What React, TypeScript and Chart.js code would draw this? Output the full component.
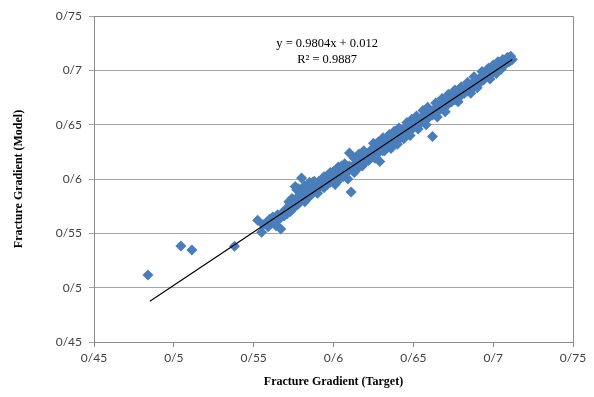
import React, { useEffect, useRef } from "react";
import { Chart, registerables } from "chart.js";

Chart.register(...registerables);

// Target (x) values
const targetValues: number[] = [
  0.4838, 0.5044, 0.5113, 0.538,
  0.5525, 0.555, 0.556, 0.558, 0.559, 0.56, 0.561, 0.562, 0.563, 0.564, 0.565, 0.566, 0.567, 0.568, 0.569, 0.57,
  0.571, 0.572, 0.573, 0.574, 0.575, 0.576, 0.577, 0.576, 0.578, 0.579, 0.58, 0.58, 0.581, 0.582, 0.583, 0.584,
  0.585, 0.586, 0.587, 0.588, 0.589, 0.59, 0.591, 0.592, 0.593, 0.594, 0.595, 0.596, 0.597, 0.598, 0.599, 0.6,
  0.601, 0.602, 0.603, 0.604, 0.605, 0.606, 0.607, 0.608, 0.609, 0.61, 0.61, 0.611, 0.612, 0.613, 0.614, 0.615,
  0.616, 0.617, 0.618, 0.619, 0.62, 0.621, 0.622, 0.623, 0.624, 0.625, 0.626, 0.627, 0.628, 0.629, 0.63, 0.631,
  0.632, 0.633, 0.634, 0.635, 0.636, 0.637, 0.638, 0.639, 0.64, 0.641, 0.642, 0.643, 0.644, 0.645, 0.646, 0.647,
  0.648, 0.649, 0.65, 0.651, 0.652, 0.653, 0.654, 0.655, 0.656, 0.657, 0.658, 0.659, 0.66, 0.661, 0.662, 0.662,
  0.663, 0.664, 0.665, 0.666, 0.667, 0.668, 0.669, 0.67, 0.671, 0.672, 0.673, 0.674, 0.675, 0.676, 0.677, 0.678,
  0.679, 0.68, 0.681, 0.682, 0.683, 0.684, 0.685, 0.686, 0.687, 0.688, 0.689, 0.69, 0.691, 0.692, 0.693, 0.694,
  0.695, 0.696, 0.697, 0.698, 0.699, 0.7, 0.701, 0.702, 0.703, 0.704, 0.705, 0.706, 0.707, 0.708, 0.709, 0.71,
  0.711, 0.712,
  0.572, 0.574, 0.578, 0.582, 0.585, 0.588, 0.583, 0.586, 0.59, 0.594, 0.596, 0.598, 0.6, 0.603, 0.605, 0.607,
  0.602, 0.606, 0.609, 0.613, 0.616, 0.619, 0.614, 0.618, 0.622, 0.625, 0.628, 0.631, 0.626, 0.632, 0.635, 0.638,
  0.641, 0.636, 0.64, 0.644, 0.646, 0.649, 0.652, 0.648, 0.653, 0.656, 0.659, 0.664, 0.658, 0.665, 0.668, 0.672,
  0.676, 0.67, 0.678, 0.68, 0.684, 0.688, 0.686, 0.69, 0.693, 0.697, 0.7, 0.703, 0.706, 0.709, 0.711, 0.698,
  0.702, 0.705,
];

// Model (y) values
const modelValues: number[] = [
  0.5117, 0.5384, 0.5347, 0.538,
  0.562, 0.551, 0.558, 0.56, 0.556, 0.563, 0.559, 0.565, 0.561, 0.557, 0.567, 0.563, 0.554, 0.569, 0.566, 0.572,
  0.568, 0.575, 0.57, 0.578, 0.573, 0.581, 0.59, 0.593, 0.577, 0.586, 0.601, 0.582, 0.59, 0.579, 0.588, 0.593,
  0.584, 0.591, 0.597, 0.589, 0.595, 0.587, 0.598, 0.593, 0.6, 0.592, 0.599, 0.595, 0.602, 0.597, 0.604, 0.6,
  0.595, 0.603, 0.608, 0.601, 0.606, 0.61, 0.604, 0.608, 0.6, 0.612, 0.624, 0.588, 0.611, 0.606, 0.615, 0.61,
  0.618, 0.613, 0.62, 0.615, 0.623, 0.617, 0.622, 0.626, 0.62, 0.627, 0.623, 0.63, 0.624, 0.616, 0.631, 0.626,
  0.634, 0.629, 0.633, 0.636, 0.631, 0.638, 0.634, 0.64, 0.637, 0.643, 0.638, 0.645, 0.641, 0.647, 0.642, 0.65,
  0.645, 0.651, 0.647, 0.653, 0.649, 0.655, 0.651, 0.656, 0.653, 0.659, 0.655, 0.661, 0.657, 0.662, 0.639, 0.659,
  0.664, 0.661, 0.666, 0.663, 0.668, 0.665, 0.67, 0.667, 0.672, 0.669, 0.675, 0.671, 0.677, 0.673, 0.678, 0.675,
  0.68, 0.677, 0.682, 0.679, 0.684, 0.681, 0.686, 0.683, 0.688, 0.685, 0.69, 0.687, 0.692, 0.689, 0.694, 0.691,
  0.696, 0.694, 0.698, 0.696, 0.7, 0.698, 0.702, 0.7, 0.704, 0.702, 0.706, 0.705, 0.707, 0.706, 0.708, 0.708,
  0.709, 0.71,
  0.579, 0.582, 0.591, 0.594, 0.597, 0.598, 0.583, 0.586, 0.594, 0.602, 0.603, 0.606, 0.607, 0.611, 0.612, 0.614,
  0.597, 0.602, 0.607, 0.619, 0.623, 0.626, 0.608, 0.612, 0.617, 0.633, 0.634, 0.638, 0.619, 0.626, 0.641, 0.644,
  0.647, 0.628, 0.632, 0.637, 0.652, 0.655, 0.658, 0.64, 0.646, 0.663, 0.666, 0.67, 0.65, 0.657, 0.674, 0.678,
  0.682, 0.662, 0.671, 0.685, 0.689, 0.694, 0.679, 0.684, 0.699, 0.702, 0.705, 0.708, 0.71, 0.712, 0.713, 0.692,
  0.697, 0.701,
];

// Linear trend line endpoints (y = 0.9804x + 0.012)
const trendX: number[] = [0.485, 0.712];
const trendY: number[] = [0.4875, 0.71];

const tickValues: number[] = [0.45, 0.5, 0.55, 0.6, 0.65, 0.7, 0.75];
const tickLabels: string[] = ["0/45", "0/5", "0/55", "0/6", "0/65", "0/7", "0/75"];

const equationText = "y = 0.9804x + 0.012";
const r2Text = "R² = 0.9887";
const xTitle = "Fracture Gradient (Target)";
const yTitle = "Fracture Gradient (Model)";

export default function App() {
  const canvasRef = useRef<HTMLCanvasElement | null>(null);

  useEffect(() => {
    if (!canvasRef.current) return;

    const borderPlugin = {
      id: "plotBorder",
      afterDraw(chart: any) {
        const { ctx, chartArea } = chart;
        ctx.save();
        ctx.strokeStyle = "#8c8c8c";
        ctx.lineWidth = 1;
        ctx.beginPath();
        ctx.moveTo(chartArea.left, chartArea.top + 0.5);
        ctx.lineTo(chartArea.right + 0.5, chartArea.top + 0.5);
        ctx.lineTo(chartArea.right + 0.5, chartArea.bottom);
        ctx.stroke();
        ctx.restore();
      },
    };

    const equationPlugin = {
      id: "equation",
      afterDatasetsDraw(chart: any) {
        const { ctx } = chart;
        const xs = chart.scales.x;
        const ys = chart.scales.y;
        const cx = xs.getPixelForValue(0.596);
        ctx.save();
        ctx.fillStyle = "#000";
        ctx.font = "12.5px 'Liberation Serif', serif";
        ctx.textAlign = "center";
        ctx.textBaseline = "middle";
        ctx.fillText(equationText, cx, ys.getPixelForValue(0.7246));
        ctx.fillText(r2Text, cx, ys.getPixelForValue(0.7098));
        ctx.restore();
      },
    };

    const tickFont = { family: "Lato, 'Open Sans', sans-serif", size: 12 };
    const titleFont = { family: "'Liberation Serif', serif", size: 12, weight: "bold" as const };

    const chart = new Chart(canvasRef.current, {
      type: "scatter",
      data: {
        datasets: [
          {
            type: "line",
            label: "Trend",
            data: trendX.map((x, i) => ({ x, y: trendY[i] })),
            borderColor: "#000",
            borderWidth: 1.2,
            pointRadius: 0,
            fill: false,
            order: 0,
          } as any,
          {
            label: "Data",
            data: targetValues.map((x, i) => ({ x, y: modelValues[i] })),
            pointStyle: "rectRot",
            pointRadius: 5.5,
            backgroundColor: "#4a7ebb",
            borderColor: "#4a7ebb",
            borderWidth: 0,
            order: 1,
          },
        ],
      },
      options: {
        animation: false,
        responsive: true,
        maintainAspectRatio: false,
        layout: { padding: { top: 16, right: 21, left: 0, bottom: 0 } },
        plugins: {
          legend: { display: false },
          tooltip: { enabled: false },
        },
        scales: {
          x: {
            type: "linear",
            min: 0.45,
            max: 0.75,
            afterBuildTicks: (scale: any) => {
              scale.ticks = tickValues.map((v) => ({ value: v }));
            },
            afterFit: (scale: any) => {
              scale.height = 55;
            },
            ticks: {
              callback: (_v: any, i: number) => tickLabels[i],
              font: tickFont,
              color: "#404040",
              padding: 4,
              maxRotation: 0,
            },
            grid: {
              drawOnChartArea: false,
              drawTicks: true,
              tickLength: 5,
              color: "#8c8c8c",
            },
            border: { color: "#8c8c8c" },
            title: {
              display: true,
              text: xTitle,
              font: titleFont,
              color: "#000",
              padding: { top: 0, bottom: 8 },
            },
          },
          y: {
            type: "linear",
            min: 0.45,
            max: 0.75,
            afterBuildTicks: (scale: any) => {
              scale.ticks = tickValues.map((v) => ({ value: v }));
            },
            afterFit: (scale: any) => {
              scale.width = 94;
            },
            ticks: {
              callback: (_v: any, i: number) => tickLabels[i],
              font: tickFont,
              color: "#404040",
              padding: 7,
            },
            grid: {
              drawOnChartArea: true,
              drawTicks: true,
              tickLength: 5,
              color: "#a6a6a6",
            },
            border: { color: "#8c8c8c" },
            title: {
              display: true,
              text: yTitle,
              font: titleFont,
              color: "#000",
              padding: { top: 12, bottom: 0 },
            },
          },
        },
      },
      plugins: [borderPlugin, equationPlugin],
    });

    return () => {
      chart.destroy();
    };
  }, []);

  return (
    <div style={{ position: "fixed", left: 0, top: 0, width: 594, height: 397, background: "#fff" }}>
      <canvas ref={canvasRef} />
    </div>
  );
}
